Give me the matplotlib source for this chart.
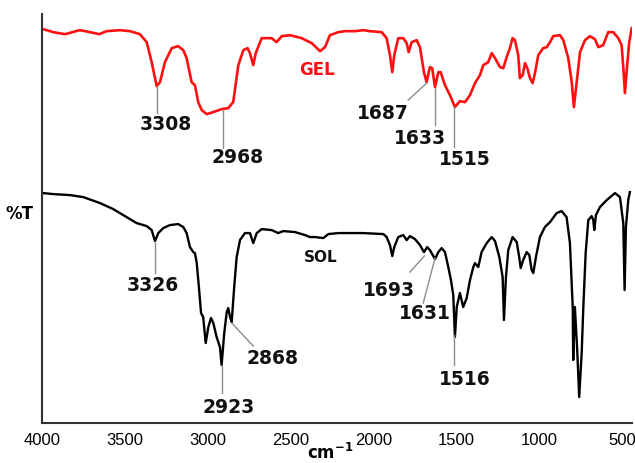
import matplotlib.pyplot as plt

# FTIR spectra, wavenumber (cm-1) and transmittance (arbitrary units)
gel_wn = [3992, 3932, 3861, 3771, 3710, 3654, 3610, 3529, 3469, 3409, 3368, 3338,
          3308, 3288, 3258, 3217, 3178, 3147, 3127, 3097, 3077, 3057, 3036, 3006,
          2966, 2916, 2876, 2846, 2815, 2785, 2759, 2745, 2725, 2710, 2674, 2614,
          2584, 2553, 2503, 2433, 2372, 2322, 2292, 2262, 2212, 2171, 2111, 2061,
          2021, 1950, 1920, 1900, 1886, 1874, 1850, 1820, 1799, 1787, 1769, 1739,
          1719, 1695, 1679, 1659, 1645, 1628, 1608, 1594, 1568, 1538, 1508, 1478,
          1447, 1417, 1387, 1357, 1337, 1307, 1286, 1266, 1236, 1216, 1196, 1176,
          1160, 1146, 1126, 1116, 1099, 1085, 1071, 1055, 1039, 1025, 1005, 975,
          954, 934, 915, 874, 854, 824, 803, 790, 773, 753, 723, 693, 663, 643,
          613, 583, 552, 522, 502, 492, 482, 472, 456, 441]
gel_t = [394, 391, 389, 393, 391, 389, 392, 393, 392, 389, 381, 361,
         337, 341, 361, 375, 377, 373, 365, 341, 338, 321, 313, 309,
         311, 314, 315, 321, 358, 373, 375, 370, 358, 370, 385, 385,
         381, 387, 388, 385, 380, 372, 376, 388, 391, 392, 392, 393,
         392, 391, 385, 368, 351, 368, 385, 385, 380, 371, 381, 383,
         376, 351, 341, 356, 355, 336, 351, 351, 338, 328, 316, 322,
         321, 328, 340, 348, 358, 361, 370, 365, 356, 355, 366, 375,
         385, 383, 368, 345, 348, 360, 355, 345, 340, 350, 368, 375,
         376, 381, 387, 388, 383, 365, 341, 316, 341, 371, 383, 387, 384, 376,
         378, 391, 391, 385, 378, 356, 330, 351, 381, 395]

sol_wn = [3992, 3932, 3831, 3751, 3650, 3570, 3489, 3429, 3368, 3338, 3318, 3298,
          3268, 3228, 3178, 3147, 3127, 3107, 3087, 3077, 3066, 3053, 3040, 3027,
          3012, 2996, 2980, 2966, 2946, 2926, 2916, 2900, 2885, 2876, 2865, 2855,
          2840, 2825, 2805, 2775, 2745, 2725, 2704, 2674, 2614, 2574, 2544, 2473,
          2413, 2383, 2353, 2302, 2272, 2212, 2111, 2061, 1940, 1920, 1900, 1886,
          1874, 1850, 1820, 1799, 1779, 1749, 1719, 1695, 1675, 1659, 1628, 1608,
          1588, 1568, 1548, 1532, 1518, 1508, 1497, 1478, 1458, 1437, 1417, 1397,
          1387, 1367, 1347, 1316, 1286, 1266, 1240, 1220, 1212, 1200, 1186, 1160,
          1135, 1120, 1111, 1096, 1075, 1059, 1045, 1035, 1019, 995, 965, 934,
          894, 864, 834, 814, 797, 794, 784, 770, 758, 743, 733, 719, 703, 683,
          673, 667, 657, 633, 592, 542, 512, 492, 484, 476, 462, 452]
sol_t = [230, 229, 228, 226, 220, 214, 206, 200, 197, 193, 182, 190,
         195, 198, 199, 196, 190, 176, 171, 170, 160, 136, 110, 106,
         80, 96, 105, 100, 86, 76, 58, 90, 111, 115, 106, 101,
         136, 166, 183, 190, 190, 180, 190, 194, 193, 190, 192, 191,
         188, 186, 186, 185, 189, 190, 190, 190, 189, 186, 178, 167,
         176, 186, 188, 183, 187, 184, 178, 171, 176, 173, 164, 171,
         175, 171, 156, 143, 128, 86, 116, 130, 116, 125, 143, 156,
         160, 156, 171, 180, 186, 182, 166, 146, 103, 146, 173, 186,
         181, 166, 155, 163, 171, 168, 153, 150, 166, 186, 196, 201,
         210, 212, 206, 180, 116, 63, 116, 73, 26, 70, 116, 170, 203, 207,
         203, 193, 208, 216, 223, 230, 226, 200, 133, 196, 223, 231]

gel_peaks = ["3308", "2968", "1687", "1633", "1515"]
sol_peaks = ["3326", "2923", "2868", "1693", "1631", "1516"]
x_ticks = [4000, 3500, 3000, 2500, 2000, 1500, 1000, 500]

fig = plt.figure(figsize=(6.35, 4.63), dpi=100)
ax = fig.add_axes([0.0661, 0.0864, 0.929, 0.883])

ax.plot(gel_wn, gel_t, color="#ff1010", linewidth=1.9)
ax.plot(sol_wn, sol_t, color="black", linewidth=1.7)

# leader line (start, end) and text position for each peak label
gel_pos = [((3306, 337), (3306, 310), (3255, 299)),
           ((2910, 313), (2910, 275), (2820, 266)),
           ((1679, 340), (1790, 323), (1942, 310)),
           ((1628, 335), (1628, 298), (1721, 285)),
           ((1512, 316), (1512, 276), (1447, 264))]
sol_pos = [((3318, 180), (3318, 150), (3333, 138)),
           ((2914, 58), (2914, 30), (2872, 16)),
           ((2855, 100), (2725, 77), (2609, 65)),
           ((1693, 167), (1779, 151), (1906, 133)),
           ((1628, 165), (1699, 120), (1692, 110)),
           ((1514, 88), (1514, 58), (1447, 44))]

for labels, positions in [(gel_peaks, gel_pos), (sol_peaks, sol_pos)]:
    for lab, (p0, p1, pt) in zip(labels, positions):
        ax.plot([p0[0], p1[0]], [p0[1], p1[1]], color="#8c8c8c", linewidth=1.0)
        ax.text(pt[0], pt[1], lab, fontsize=13.5, fontweight="bold",
                ha="center", va="center", color="#111111")

ax.text(2342, 353, "GEL", color="#ff1010", fontsize=12, fontweight="bold",
        ha="center", va="center")
ax.text(2319, 166, "SOL", color="#111111", fontsize=11, fontweight="bold",
        ha="center", va="center")

ax.set_xlim(4000, 440)
ax.set_ylim(0, 409)
ax.set_xticks(x_ticks)
ax.set_xticklabels([str(t) for t in x_ticks], fontsize=12, family="Liberation Sans")
ax.set_yticks([])
ax.tick_params(axis="x", length=0, pad=7)
ax.spines["top"].set_visible(False)
ax.spines["right"].set_visible(False)
ax.spines["left"].set_color("#333333")
ax.spines["bottom"].set_color("#333333")
ax.spines["left"].set_linewidth(1.5)
ax.spines["bottom"].set_linewidth(1.5)

fig.text(0.03, 1 - 214 / 463, "%T", fontsize=12, fontweight="bold",
         ha="center", va="center")
fig.text(0.52, 0.022, "cm$^{\\mathbf{-1}}$", fontsize=12, fontweight="bold",
         ha="center", va="center")

fig.savefig("out.png", dpi=100)
